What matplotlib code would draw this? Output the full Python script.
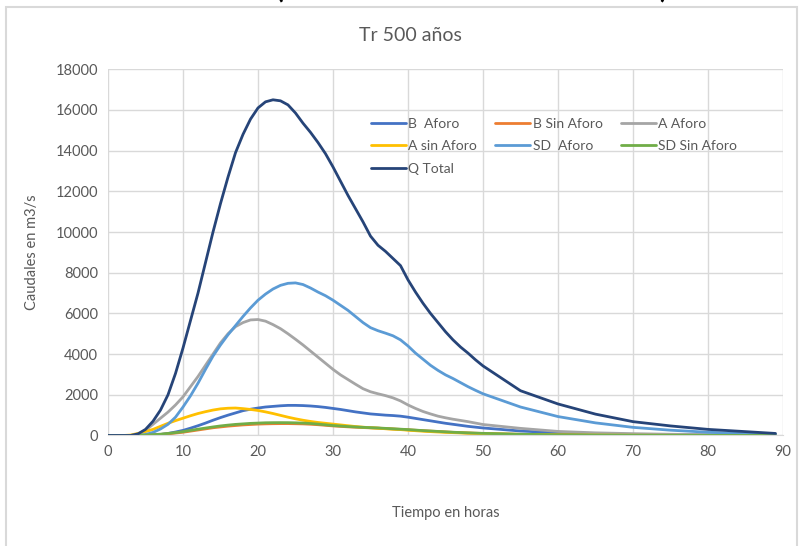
import matplotlib
matplotlib.use("Agg")
import matplotlib.pyplot as plt
import matplotlib.patches as patches

plt.rcParams['font.family'] = ['Lato', 'DejaVu Sans']

# hours: hourly up to 50, then every 5 h
horas = list(range(0, 51)) + [55, 60, 65, 70, 75, 80, 85, 89]

b_aforo = [0, 0, 0, 0, 0, 5, 20, 50, 100, 170, 250, 360, 480, 610, 750, 880, 1000, 1110, 1220, 1290,
           1350, 1400, 1430, 1460, 1480, 1480, 1470, 1450, 1420, 1380, 1330, 1280, 1220, 1160, 1110, 1060, 1030, 1000, 980, 950,
           900, 840, 780, 720, 660, 600, 550, 500, 450, 410, 370,
           220, 130, 80, 55, 40, 30, 20, 15]
b_sin_aforo = [0, 0, 0, 0, 5, 15, 30, 50, 80, 120, 160, 215, 270, 325, 380, 420, 460, 490, 520, 540,
               560, 572, 580, 584, 585, 578, 570, 552, 530, 500, 470, 447, 425, 407, 390, 375, 360, 340, 320, 300,
               280, 257, 235, 215, 195, 175, 155, 140, 125, 112, 100,
               58, 33, 19, 11, 7, 4, 3, 2]
a_aforo = [0, 0, 0, 0, 50, 250, 550, 850, 1150, 1500, 1900, 2400, 2900, 3450, 4000, 4550, 5000, 5350, 5550, 5680,
           5700, 5620, 5450, 5250, 5000, 4730, 4450, 4150, 3850, 3550, 3250, 2980, 2750, 2520, 2300, 2150, 2050, 1960, 1850, 1700,
           1500, 1330, 1180, 1060, 950, 870, 800, 740, 680, 610, 540,
           350, 200, 130, 90, 60, 40, 30, 20]
a_sin_aforo = [0, 0, 0, 20, 100, 190, 300, 450, 600, 730, 850, 970, 1080, 1170, 1250, 1310, 1340, 1350, 1320, 1280,
               1230, 1160, 1080, 990, 900, 820, 750, 690, 640, 600, 560, 520, 480, 440, 410, 380, 360, 330, 310, 290,
               260, 235, 210, 190, 170, 155, 140, 125, 110, 100, 90,
               50, 30, 20, 12, 8, 5, 3, 2]
sd_aforo = [0, 0, 0, 0, 0, 50, 150, 320, 550, 900, 1400, 1950, 2570, 3250, 3900, 4450, 4950, 5400, 5850, 6270,
            6650, 6950, 7200, 7380, 7480, 7500, 7420, 7250, 7050, 6870, 6650, 6400, 6150, 5850, 5550, 5300, 5150, 5030, 4900, 4700,
            4400, 4050, 3750, 3450, 3200, 2980, 2800, 2600, 2400, 2220, 2050,
            1400, 930, 620, 400, 260, 160, 90, 50]
sd_sin_aforo = [0, 0, 0, 0, 10, 20, 40, 65, 100, 140, 190, 250, 310, 365, 420, 470, 510, 545, 570, 595,
                610, 625, 630, 632, 630, 622, 610, 590, 560, 525, 490, 465, 440, 420, 400, 385, 370, 350, 330, 310,
                290, 265, 240, 220, 200, 180, 160, 145, 130, 117, 105,
                60, 35, 20, 12, 8, 5, 3, 2]
q_total = [0, 0, 0, 0, 80, 300, 700, 1250, 2000, 3050, 4300, 5650, 7000, 8500, 10000, 11400, 12700, 13900, 14800, 15550,
           16100, 16400, 16500, 16450, 16250, 15850, 15350, 14900, 14400, 13850, 13200, 12500, 11800, 11150, 10500, 9800, 9350, 9050, 8700, 8350,
           7650, 7050, 6500, 6000, 5550, 5100, 4700, 4350, 4050, 3720, 3420,
           2200, 1550, 1050, 680, 470, 300, 190, 100]

series = [
    ("B  Aforo", b_aforo, "#4472C4"),
    ("B Sin Aforo", b_sin_aforo, "#ED7D31"),
    ("A Aforo", a_aforo, "#A5A5A5"),
    ("A sin Aforo", a_sin_aforo, "#FFC000"),
    ("SD  Aforo", sd_aforo, "#5B9BD5"),
    ("SD Sin Aforo", sd_sin_aforo, "#70AD47"),
    ("Q Total", q_total, "#264478"),
]

txt = "#595959"
grid_c = "#D9D9D9"

fig = plt.figure(figsize=(8, 5.46), dpi=100)
ax = fig.add_axes([0.135, 0.2024, 0.84375, 0.6707])

lines = {}
for name, vals, col in series:
    ln, = ax.plot(horas, vals, color=col, lw=2, label=name,
                  solid_capstyle='round', solid_joinstyle='round')
    lines[name] = ln

ax.set_xlim(0, 90)
ax.set_ylim(0, 18000)
ax.set_xticks(range(0, 91, 10))
ax.set_yticks(range(0, 18001, 2000))
ax.grid(True, color=grid_c, lw=1)
ax.set_axisbelow(True)
for s in ax.spines.values():
    s.set_visible(False)
ax.spines['bottom'].set_visible(True)
ax.spines['bottom'].set_color(grid_c)
ax.tick_params(length=0, colors=txt, labelsize=10.5, pad=7)

ax.set_xlabel("Tiempo en horas", color=txt, fontsize=10.5, labelpad=34)
ax.set_ylabel("Caudales en m3/s", color=txt, fontsize=10.5, labelpad=12)
fig.text(0.5125, 0.935, "Tr 500 años", color=txt, fontsize=14, ha='center', va='center')

# legend filled column-wise to mimic row order
order = ["B  Aforo", "A sin Aforo", "Q Total", "B Sin Aforo", "SD  Aforo", "A Aforo", "SD Sin Aforo"]
leg = fig.legend([lines[n] for n in order], order, ncol=3, frameon=False,
                 loc='upper left', bbox_to_anchor=(0.455, 0.797),
                 fontsize=10, handlelength=2.5, handletextpad=0.2,
                 columnspacing=1.3, labelspacing=0.75, borderpad=0)
for t in leg.get_texts():
    t.set_color(txt)

# outer chart frame
fig.patches.append(patches.Rectangle((6 / 800, -0.02), 791 / 800, 1.02 - 7 / 546,
                                     transform=fig.transFigure, fill=False,
                                     edgecolor="#D9D9D9", lw=1.5))

# cropped heading above the chart (only the bottoms of the brackets show)
fig.text(280 / 800, 1.003, "(", fontsize=20, fontweight='bold', color='black', ha='center', va='baseline')
fig.text(663 / 800, 1.003, ")", fontsize=20, fontweight='bold', color='black', ha='center', va='baseline')

plt.savefig("out.png", dpi=100)
